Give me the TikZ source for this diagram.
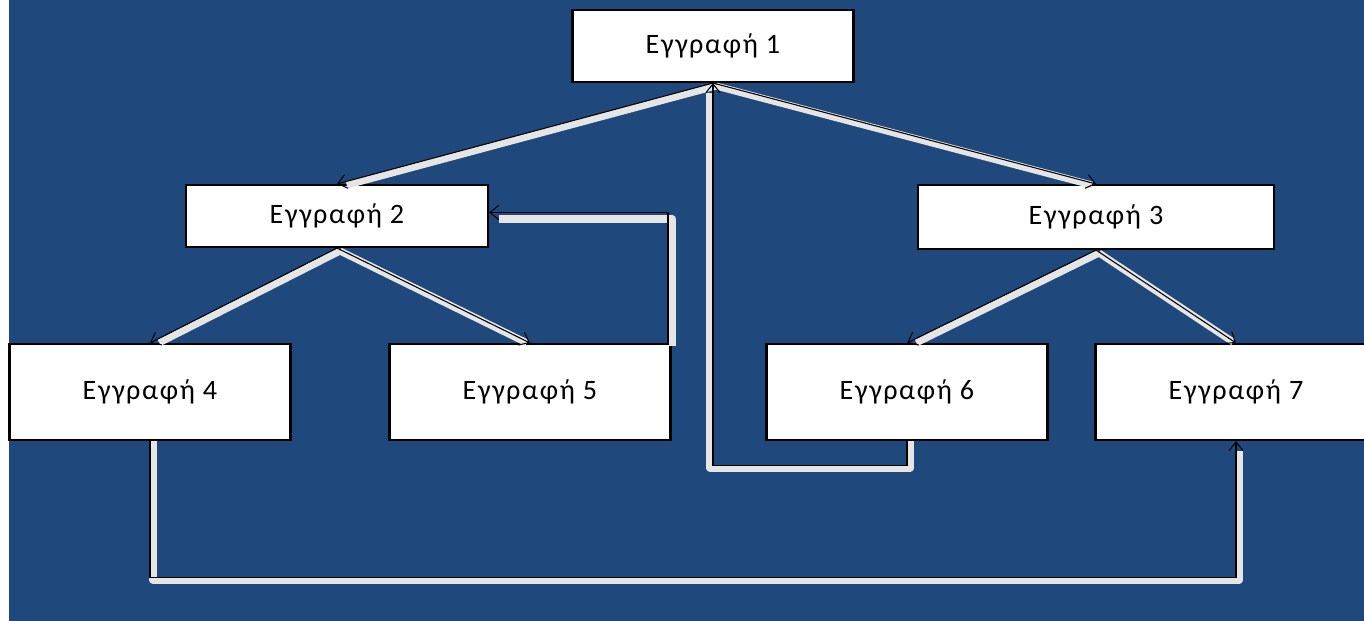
\documentclass[tikz,border=0pt]{standalone}
\usepackage{fontspec}
\setmainfont{Carlito}
\newfontfamily\recfont{Carlito}[LetterSpace=6]
\usetikzlibrary{arrows.meta}
\definecolor{bgblue}{HTML}{1F497D}

\begin{document}
\begin{tikzpicture}[x=0.02cm, y=-0.02cm,
    recbox/.style={draw=black, line width=1.2pt, fill=white, inner sep=0pt,
        font=\recfont\fontsize{16}{19}\selectfont},
    halo/.style={draw=white!90!black, line width=4pt, line join=round, shorten >=4pt},
    link/.style={draw=black, line width=0.6pt, -{Straight Barb[length=5pt,width=8pt]}}]

    % background
    \useasboundingbox (0,0) rectangle (1364,621);
    \fill[white] (0,0) rectangle (1364,621);
    \fill[bgblue] (9,0) rectangle (1364,621);

    % records
    \node[recbox, minimum width=5.62cm, minimum height=1.44cm] (rec1) at (713,46) {Εγγραφή 1};
    \node[recbox, minimum width=6.04cm, minimum height=1.24cm] (rec2) at (337,216) {Εγγραφή 2};
    \node[recbox, minimum width=7.12cm, minimum height=1.28cm] (rec3) at (1096,217) {Εγγραφή 3};
    \node[recbox, minimum width=5.62cm, minimum height=1.92cm] (rec4) at (150,392) {Εγγραφή 4};
    \node[recbox, minimum width=5.62cm, minimum height=1.92cm] (rec5) at (530,392) {Εγγραφή 5};
    \node[recbox, minimum width=5.62cm, minimum height=1.92cm] (rec6) at (907,392) {Εγγραφή 6};
    \node[recbox, minimum width=5.62cm, minimum height=1.92cm] (rec7) at (1236,392) {Εγγραφή 7};

    % tree links
    \foreach \a/\b in {rec1/rec2, rec1/rec3, rec2/rec4, rec2/rec5, rec3/rec6, rec3/rec7} {
        \draw[halo] ([shift={(3,3)}]\a.south) -- ([shift={(3,3)}]\b.north);
        \draw[link] (\a.south) -- (\b.north);
    }

    % back links
    \draw[halo] ([shift={(1,3)}]rec5.north east) |- ([shift={(3,3)}]rec2.east);
    \draw[link] ([xshift=-2]rec5.north east) |- ([yshift=2]rec2.east);

    \draw[halo] ([shift={(3,0)}]rec6.south) -- ++(0,27) -| ([shift={(-3,3)}]rec1.south);
    \draw[link] (rec6.south) -- ++(0,24) -| (rec1.south);

    \draw[halo] ([shift={(3,0)}]rec4.south) -- ++(0,139) -| ([shift={(3,3)}]rec7.south);
    \draw[link] (rec4.south) -- ++(0,136) -| (rec7.south);

\end{tikzpicture}
\end{document}
